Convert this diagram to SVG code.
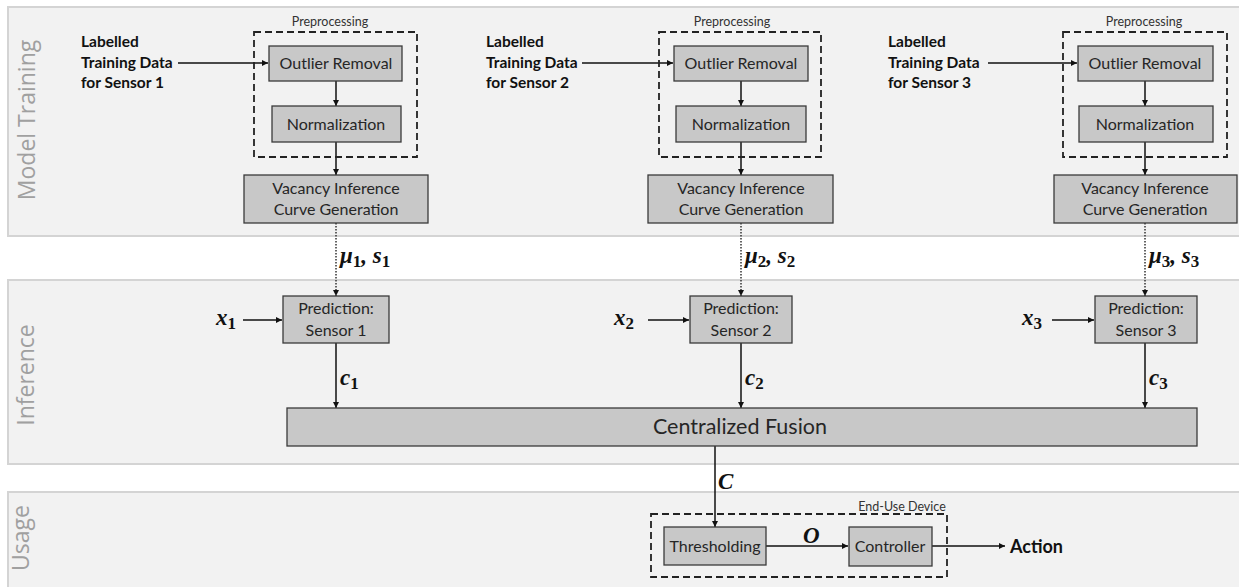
<svg xmlns="http://www.w3.org/2000/svg" width="1239" height="587" viewBox="0 0 1239 587">
<style>
.band{fill:#f2f2f2;stroke:#d4d4d4;stroke-width:2}
.blabel{font-family:"Open Sans","Liberation Sans",sans-serif;font-size:23px;fill:#a0a0a0;text-anchor:middle}
.box{fill:#c8c8c8;stroke:#3a3a3a;stroke-width:1.3}
.t{font-family:Lato,"Liberation Sans",sans-serif;font-size:16px;fill:#262626;text-anchor:middle}
.big{font-family:Lato,"Liberation Sans",sans-serif;font-size:21.5px;fill:#262626;text-anchor:middle}
.lab{font-family:Lato,"Liberation Sans",sans-serif;font-size:15.5px;font-weight:bold;fill:#111}
.small{font-family:Lato,"Liberation Sans",sans-serif;font-size:12.5px;fill:#333;text-anchor:middle}
.dash{fill:none;stroke:#222;stroke-width:1.8;stroke-dasharray:7 4}
.ln{fill:none;stroke:#111;stroke-width:1.5}
.dot{fill:none;stroke:#333;stroke-width:1.5;stroke-dasharray:1.5 1.5}
.m{font-family:"Liberation Serif","DejaVu Serif",serif;font-style:italic;font-weight:bold;font-size:23px;fill:#111}
.sub{font-size:17px;font-style:normal}
</style>
<defs>
<marker id="ah" viewBox="0 0 10 10" refX="10" refY="5" markerWidth="6" markerHeight="6" markerUnits="userSpaceOnUse" orient="auto">
<path d="M0,0 L10,5 L0,10 z" fill="#111"/>
</marker>
</defs>
<g id="bands">
<rect class="band" x="8" y="7" width="1240" height="229"/>
<rect class="band" x="8" y="280" width="1240" height="184"/>
<rect class="band" x="8" y="492" width="1240" height="110"/>
<text class="blabel" transform="translate(35,120) rotate(-90)">Model Training</text>
<text class="blabel" transform="translate(34,375) rotate(-90)">Inference</text>
<text class="blabel" transform="translate(29,538) rotate(-90)">Usage</text>
</g>
<g id="connectors">
<line class="ln" x1="178" y1="63" x2="268" y2="63" marker-end="url(#ah)"/>
<line class="ln" x1="336" y1="81" x2="336" y2="106" marker-end="url(#ah)"/>
<line class="ln" x1="336" y1="142" x2="336" y2="175" marker-end="url(#ah)"/>
<line class="ln" x1="582" y1="63" x2="673" y2="63" marker-end="url(#ah)"/>
<line class="ln" x1="741" y1="81" x2="741" y2="106" marker-end="url(#ah)"/>
<line class="ln" x1="741" y1="142" x2="741" y2="175" marker-end="url(#ah)"/>
<line class="ln" x1="988" y1="63" x2="1077" y2="63" marker-end="url(#ah)"/>
<line class="ln" x1="1145" y1="81" x2="1145" y2="106" marker-end="url(#ah)"/>
<line class="ln" x1="1145" y1="142" x2="1145" y2="175" marker-end="url(#ah)"/>
<line class="dot" x1="336" y1="223" x2="336" y2="296" marker-end="url(#ah)"/>
<line class="dot" x1="741" y1="223" x2="741" y2="296" marker-end="url(#ah)"/>
<line class="dot" x1="1145" y1="223" x2="1145" y2="296" marker-end="url(#ah)"/>
<line class="ln" x1="243" y1="320" x2="282" y2="320" marker-end="url(#ah)"/>
<line class="ln" x1="648" y1="320" x2="689" y2="320" marker-end="url(#ah)"/>
<line class="ln" x1="1052" y1="320" x2="1094" y2="320" marker-end="url(#ah)"/>
<line class="ln" x1="336" y1="343" x2="336" y2="408" marker-end="url(#ah)"/>
<line class="ln" x1="741" y1="343" x2="741" y2="408" marker-end="url(#ah)"/>
<line class="ln" x1="1145" y1="343" x2="1145" y2="408" marker-end="url(#ah)"/>
<line class="ln" x1="715" y1="446" x2="715" y2="527" marker-end="url(#ah)"/>
<line class="ln" x1="766" y1="546" x2="848" y2="546" marker-end="url(#ah)"/>
<line class="ln" x1="932" y1="546" x2="1005" y2="546" marker-end="url(#ah)"/>
<text class="m" x="340" y="263">μ<tspan class="sub" dy="4">1</tspan><tspan dy="-4">, s</tspan><tspan class="sub" dy="4">1</tspan></text>
<text class="m" x="745" y="263">μ<tspan class="sub" dy="4">2</tspan><tspan dy="-4">, s</tspan><tspan class="sub" dy="4">2</tspan></text>
<text class="m" x="1149" y="263">μ<tspan class="sub" dy="4">3</tspan><tspan dy="-4">, s</tspan><tspan class="sub" dy="4">3</tspan></text>
<text class="m" x="216" y="325">x<tspan class="sub" dy="4">1</tspan></text>
<text class="m" x="614" y="325">x<tspan class="sub" dy="4">2</tspan></text>
<text class="m" x="1022" y="325">x<tspan class="sub" dy="4">3</tspan></text>
<text class="m" x="340" y="385">c<tspan class="sub" dy="4">1</tspan></text>
<text class="m" x="745" y="385">c<tspan class="sub" dy="4">2</tspan></text>
<text class="m" x="1149" y="385">c<tspan class="sub" dy="4">3</tspan></text>
<text class="m" x="718" y="489">C</text>
<text class="m" x="803" y="543">O</text>
</g>
<g id="sensor1-training">
<text class="lab" x="81" y="47">Labelled</text>
<text class="lab" x="81" y="68">Training Data</text>
<text class="lab" x="81" y="88">for Sensor 1</text>
<rect class="dash" x="254" y="32" width="163" height="125"/>
<text class="small" x="330" y="26">Preprocessing</text>
<rect class="box" x="269" y="46" width="133" height="35"/>
<text class="t" x="336" y="69">Outlier Removal</text>
<rect class="box" x="272" y="106" width="129" height="36"/>
<text class="t" x="336" y="130">Normalization</text>
<rect class="box" x="244" y="175" width="184" height="48"/>
<text class="t" x="336" y="194">Vacancy Inference</text>
<text class="t" x="336" y="215">Curve Generation</text>
</g>
<g id="sensor2-training">
<text class="lab" x="486" y="47">Labelled</text>
<text class="lab" x="486" y="68">Training Data</text>
<text class="lab" x="486" y="88">for Sensor 2</text>
<rect class="dash" x="659" y="32" width="162" height="125"/>
<text class="small" x="732" y="26">Preprocessing</text>
<rect class="box" x="674" y="46" width="134" height="35"/>
<text class="t" x="741" y="69">Outlier Removal</text>
<rect class="box" x="676" y="106" width="130" height="36"/>
<text class="t" x="741" y="130">Normalization</text>
<rect class="box" x="648" y="175" width="185" height="48"/>
<text class="t" x="741" y="194">Vacancy Inference</text>
<text class="t" x="741" y="215">Curve Generation</text>
</g>
<g id="sensor3-training">
<text class="lab" x="888" y="47">Labelled</text>
<text class="lab" x="888" y="68">Training Data</text>
<text class="lab" x="888" y="88">for Sensor 3</text>
<rect class="dash" x="1063" y="32" width="164" height="125"/>
<text class="small" x="1144" y="26">Preprocessing</text>
<rect class="box" x="1078" y="46" width="135" height="35"/>
<text class="t" x="1145" y="69">Outlier Removal</text>
<rect class="box" x="1079" y="106" width="134" height="36"/>
<text class="t" x="1145" y="130">Normalization</text>
<rect class="box" x="1054" y="175" width="183" height="48"/>
<text class="t" x="1145" y="194">Vacancy Inference</text>
<text class="t" x="1145" y="215">Curve Generation</text>
</g>
<g id="prediction1">
<rect class="box" x="283" y="296" width="106" height="47"/>
<text class="t" x="336" y="314">Prediction:</text>
<text class="t" x="336" y="336">Sensor 1</text>
</g>
<g id="prediction2">
<rect class="box" x="690" y="296" width="102" height="47"/>
<text class="t" x="741" y="314">Prediction:</text>
<text class="t" x="741" y="336">Sensor 2</text>
</g>
<g id="prediction3">
<rect class="box" x="1095" y="296" width="102" height="47"/>
<text class="t" x="1146" y="314">Prediction:</text>
<text class="t" x="1146" y="336">Sensor 3</text>
</g>
<g id="fusion">
<rect class="box" x="287" y="408" width="910" height="38"/>
<text class="big" x="740" y="434">Centralized Fusion</text>
</g>
<g id="end-use-device">
<rect class="dash" x="651" y="514" width="296" height="63"/>
<text class="small" x="902" y="511">End-Use Device</text>
</g>
<g id="thresholding">
<rect class="box" x="664" y="527" width="102" height="38"/>
<text class="t" x="715" y="552">Thresholding</text>
</g>
<g id="controller">
<rect class="box" x="849" y="527" width="83" height="39"/>
<text class="t" x="890" y="552">Controller</text>
</g>
<g id="action">
<text class="lab" x="1010" y="553" style="font-size:18px">Action</text>
</g>
</svg>
